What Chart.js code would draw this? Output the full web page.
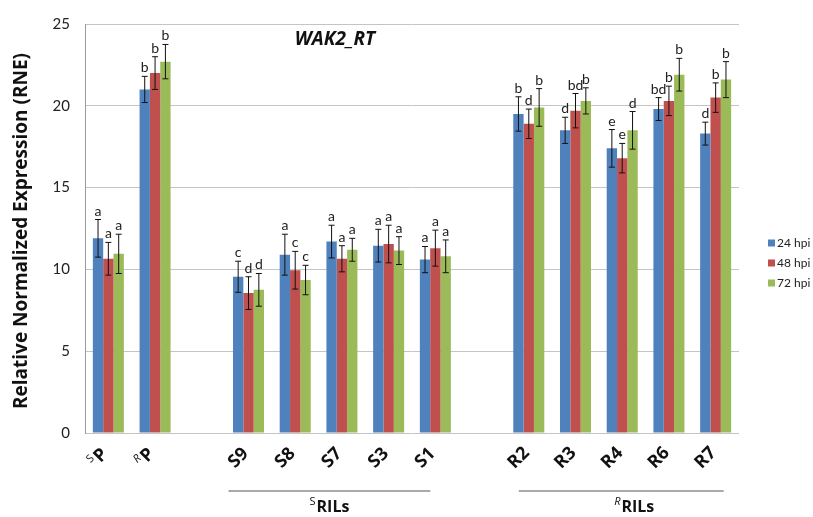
<!DOCTYPE html>
<html>
<head>
<meta charset="utf-8">
<title>WAK2_RT</title>
<script src="https://cdn.jsdelivr.net/npm/chart.js@4.4.0/dist/chart.umd.min.js"></script>
<style>
  html, body { margin: 0; padding: 0; background: #fff; }
  #wrap { width: 813px; height: 517px; }
</style>
</head>
<body>
<div id="wrap"><canvas id="wakChart" width="813" height="517"></canvas></div>
<script>
// --- data ---
const xLabels = ['P', 'P', '', 'S9', 'S8', 'S7', 'S3', 'S1', '', 'R2', 'R3', 'R4', 'R6', 'R7'];
const xSup    = ['S', 'R', '', '', '', '', '', '', '', '', '', '', '', ''];

const hpi24 = [11.9, 21.0, null, 9.55, 10.9, 11.7, 11.45, 10.6, null, 19.5, 18.5, 17.4, 19.8, 18.3];
const hpi48 = [10.65, 22.0, null, 8.55, 9.95, 10.65, 11.55, 11.3, null, 18.9, 19.7, 16.8, 20.3, 20.5];
const hpi72 = [10.95, 22.7, null, 8.75, 9.35, 11.2, 11.15, 10.8, null, 19.9, 20.3, 18.5, 21.9, 21.6];

const err24 = [1.15, 0.8, null, 0.95, 1.25, 1.0, 1.0, 0.8, null, 1.05, 0.8, 1.15, 0.7, 0.7];
const err48 = [1.0, 1.0, null, 1.0, 1.15, 0.8, 1.15, 1.1, null, 0.9, 1.05, 0.9, 0.9, 0.9];
const err72 = [1.2, 1.05, null, 1.0, 0.9, 0.7, 0.85, 1.0, null, 1.15, 0.8, 1.15, 1.0, 1.1];

const letters24 = ['a', 'b', '', 'c', 'a', 'a', 'a', 'a', '', 'b', 'd', 'e', 'bd', 'd'];
const letters48 = ['a', 'b', '', 'd', 'c', 'a', 'a', 'a', '', 'd', 'bd', 'e', 'b', 'b'];
const letters72 = ['a', 'b', '', 'd', 'c', 'a', 'a', 'a', '', 'b', 'b', 'd', 'b', 'b'];

const seriesNames = ['24 hpi', '48 hpi', '72 hpi'];
const yTicks = [0, 5, 10, 15, 20, 25];

// Gruppen unter der Achse (SRILs / RRILs)
const groupNames = ['RILs', 'RILs'];
const groupSup   = ['S', 'R'];
const groupStart = [3, 9];
const groupEnd   = [7, 13];

const colors = ['#4F81BD', '#C0504D', '#9BBB59'];
const FONT = '"Open Sans", Lato, sans-serif';
const TICKFONT = 'Lato, "Open Sans", sans-serif';

const errors  = [err24, err48, err72];
const letters = [letters24, letters48, letters72];

// Fehlerbalken + Buchstaben
const errorBarPlugin = {
  id: 'errorBars',
  afterDatasetsDraw(chart) {
    const ctx = chart.ctx;
    const y = chart.scales.y;
    ctx.save();
    chart.data.datasets.forEach((ds, di) => {
      const meta = chart.getDatasetMeta(di);
      meta.data.forEach((bar, i) => {
        const v = ds.data[i];
        const e = errors[di][i];
        if (v == null || e == null) return;
        const top = y.getPixelForValue(v + e);
        const bot = y.getPixelForValue(v - e);
        ctx.strokeStyle = '#111';
        ctx.lineWidth = 1;
        ctx.beginPath();
        ctx.moveTo(bar.x, top); ctx.lineTo(bar.x, bot);
        ctx.moveTo(bar.x - 3, top); ctx.lineTo(bar.x + 3, top);
        ctx.moveTo(bar.x - 3, bot); ctx.lineTo(bar.x + 3, bot);
        ctx.stroke();
        const lt = letters[di][i];
        if (lt) {
          ctx.fillStyle = '#222';
          ctx.font = '14px ' + TICKFONT;
          ctx.textAlign = 'center';
          ctx.textBaseline = 'alphabetic';
          ctx.fillText(lt, bar.x, top - 4);
        }
      });
    });
    ctx.restore();
  }
};

// Text mit hochgestelltem Präfix, zentriert um (0,0)
function drawSupText(ctx, sup, main, mainFont, supFont) {
  ctx.font = mainFont;
  const mw = ctx.measureText(main).width;
  ctx.font = supFont;
  const sw = sup ? ctx.measureText(sup).width : 0;
  const total = mw + sw + (sup ? 1 : 0);
  let x0 = -total / 2;
  if (sup) {
    ctx.font = supFont;
    ctx.fillText(sup, x0, -5);
    x0 += sw + 1;
  }
  ctx.font = mainFont;
  ctx.fillText(main, x0, 0);
}

const decoPlugin = {
  id: 'deco',
  afterDraw(chart) {
    const ctx = chart.ctx;
    const xs = chart.scales.x;
    ctx.save();
    ctx.fillStyle = '#111';
    ctx.textAlign = 'left';
    ctx.textBaseline = 'middle';

    // x labels, 45° gedreht
    xLabels.forEach((lab, i) => {
      if (!lab) return;
      const cx = xs.getPixelForValue(i) - 10;
      ctx.save();
      ctx.translate(cx, 458);
      ctx.rotate(-Math.PI / 4);
      const supFont = (xSup[i] === 'R' ? 'italic ' : '') + '11px ' + FONT;
      drawSupText(ctx, xSup[i], lab, 'bold 18px ' + FONT, supFont);
      ctx.restore();
    });

    // Gruppenlinien
    const padL = [20, 10], padR = [-5, 8];
    groupNames.forEach((name, g) => {
      const x1 = xs.getPixelForValue(groupStart[g]) - padL[g];
      const x2 = xs.getPixelForValue(groupEnd[g]) + padR[g];
      ctx.strokeStyle = '#8c8c8c';
      ctx.lineWidth = 1.5;
      ctx.beginPath();
      ctx.moveTo(x1, 491); ctx.lineTo(x2, 491);
      ctx.stroke();
      ctx.save();
      ctx.translate((x1 + x2) / 2 + (g === 1 ? 13 : 0), 507);
      const supFont = (groupSup[g] === 'R' ? 'italic ' : '') + '11px ' + FONT;
      drawSupText(ctx, groupSup[g], name, 'bold 16px ' + FONT, supFont);
      ctx.restore();
    });

    // Titel
    ctx.textAlign = 'center';
    ctx.font = 'bold italic 19px ' + FONT;
    ctx.fillText('WAK2_RT', 335, 40);

    // y-Achsentitel
    ctx.save();
    ctx.translate(22, 231);
    ctx.rotate(-Math.PI / 2);
    ctx.font = 'bold 19px ' + FONT;
    ctx.fillText('Relative Normalized Expression (RNE)', 0, 0);
    ctx.restore();

    // Legende
    ctx.textAlign = 'left';
    ctx.font = '12px ' + TICKFONT;
    seriesNames.forEach((s, k) => {
      const ly = 243 + k * 20;
      ctx.fillStyle = colors[k];
      ctx.fillRect(768, ly - 3.5, 7, 7);
      ctx.fillStyle = '#222';
      ctx.fillText(s, 777, ly);
    });
    ctx.restore();
  }
};

const ctx = document.getElementById('wakChart').getContext('2d');
new Chart(ctx, {
  type: 'bar',
  data: {
    labels: xLabels.map((l, i) => (xSup[i] || '') + l || ' '),
    datasets: [
      { label: seriesNames[0], data: hpi24, backgroundColor: colors[0] },
      { label: seriesNames[1], data: hpi48, backgroundColor: colors[1] },
      { label: seriesNames[2], data: hpi72, backgroundColor: colors[2] }
    ]
  },
  options: {
    responsive: false,
    devicePixelRatio: 1,
    animation: false,
    layout: { padding: { left: 0, right: 74, top: 16, bottom: 84 } },
    datasets: { bar: { categoryPercentage: 0.664, barPercentage: 1.0 } },
    plugins: {
      legend: { display: false },
      tooltip: { enabled: false }
    },
    scales: {
      x: { display: false },
      y: {
        min: 0, max: 25,
        afterFit: s => { s.width = 85; },
        afterBuildTicks: s => { s.ticks = yTicks.map(v => ({ value: v })); },
        grid: { color: '#c4c4c4', drawTicks: false },
        border: { display: true, color: '#9a9a9a' },
        ticks: { padding: 15, color: '#222', font: { family: TICKFONT, size: 15 } }
      }
    }
  },
  plugins: [errorBarPlugin, decoPlugin]
});
</script>
</body>
</html>
